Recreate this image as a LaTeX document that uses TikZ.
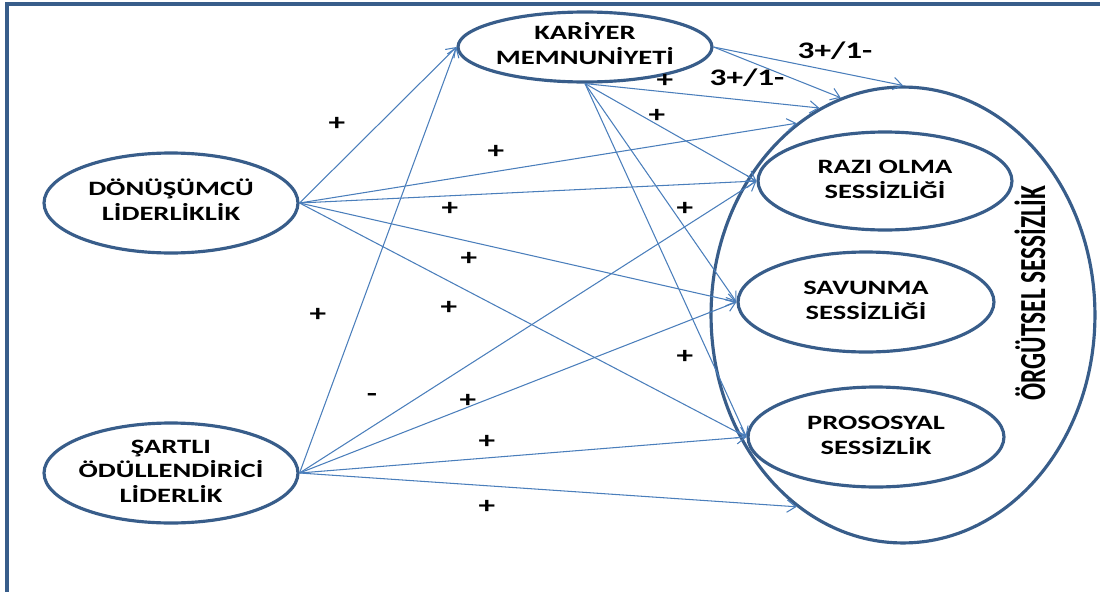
\documentclass[tikz,border=0pt]{standalone}
\usepackage{fontspec}
\setmainfont{Carlito}
\usetikzlibrary{arrows.meta,shapes.geometric}

\definecolor{ovalblue}{HTML}{385D8A}
\definecolor{linkblue}{HTML}{4A7EBB}
\newcommand{\wide}[1]{\scalebox{1.4}[1]{\begin{tabular}{@{}c@{}}#1\end{tabular}}}

\tikzset{
    oval/.style={ellipse, draw=ovalblue, line width=1.8pt, inner sep=0pt, minimum width=5.08cm, minimum height=2cm},
    factor/.style={oval, label={[txt]center:\wide{#1}}},
    txt/.style={font=\fontsize{11.6pt}{14.2pt}\selectfont\bfseries},
    link/.style={draw=linkblue, line width=0.6pt, -{Straight Barb[length=5pt, width=7pt]}},
    sign/.style={font=\fontsize{13.5pt}{15pt}\selectfont\bfseries}
}

\begin{document}
\begin{tikzpicture}[x=0.02cm, y=-0.02cm]
    \useasboundingbox (0,0) rectangle (1100,592);
    \draw[ovalblue, line width=2pt] (7,592) -- (7,4) -- (1100,4);

    \node[factor={DÖNÜŞÜMCÜ\\LİDERLİKLİK}] (dl) at (171,203) {};
    \node[factor={ŞARTLI\\ÖDÜLLENDİRİCİ\\LİDERLİK}] (sol) at (171,473) {};
    \node[factor={KARİYER\\MEMNUNİYETİ}, minimum height=1.4cm] (km) at (585,47) {};
    \node[oval, minimum width=7.68cm, minimum height=9.12cm] (os) at (903,315) {};
    \node[factor={RAZI OLMA\\SESSİZLİĞİ}, minimum height=1.96cm] (ros) at (885,181) {};
    \node[factor={SAVUNMA\\SESSİZLİĞİ}, minimum width=5.12cm] (sav) at (866,302) {};
    \node[factor={PROSOSYAL\\SESSİZLİK}, minimum width=5.12cm] (pro) at (876,437) {};
    \node[rotate=90, font=\fontsize{14.4pt}{17pt}\selectfont\bfseries] (ost) at (1030,293) {\scalebox{1}[1.45]{ÖRGÜTSEL SESSİZLİK}};

    \draw[link] (dl.east) -- (km.west);
    \draw[link] (dl.east) -- (os.119);
    \draw[link] (dl.east) -- (ros.west);
    \draw[link] (dl.east) -- (sav.west);
    \draw[link] (dl.east) -- (pro.west);
    \draw[link] (sol.east) -- (km.west);
    \draw[link] (sol.east) -- (ros.west);
    \draw[link] (sol.east) -- (sav.west);
    \draw[link] (sol.east) -- (pro.west);
    \draw[link] (sol.east) -- (os.241);
    \draw[link] (km.east) -- (os.north);
    \draw[link] (km.east) -- (os.106);
    \draw[link] (km.south) -- (os.112);
    \draw[link] (km.south) -- (ros.west);
    \draw[link] (km.south) -- (sav.west);
    \draw[link] (km.south) -- (pro.west);

    \node[sign] (p1) at (337,125) {\wide{+}};
    \node[sign] (p2) at (496,153) {\wide{+}};
    \node[sign] (p3) at (450,210) {\wide{+}};
    \node[sign] (p4) at (469,260) {\wide{+}};
    \node[sign] (p5) at (318,316) {\wide{+}};
    \node[sign] (p6) at (449,309) {\wide{+}};
    \node[sign] (m1) at (372,396) {\wide{-}};
    \node[sign] (p7) at (468,402) {\wide{+}};
    \node[sign] (p8) at (487,443) {\wide{+}};
    \node[sign] (p9) at (487,508) {\wide{+}};
    \node[sign] (p10) at (665,82) {\wide{+}};
    \node[sign] (p11) at (657,117) {\wide{+}};
    \node[sign] (p12) at (685,210) {\wide{+}};
    \node[sign] (p13) at (685,358) {\wide{+}};
    \node[sign] (r1) at (747,80) {\wide{3+/1-}};
    \node[sign] (r2) at (835,53) {\wide{3+/1-}};
\end{tikzpicture}
\end{document}
